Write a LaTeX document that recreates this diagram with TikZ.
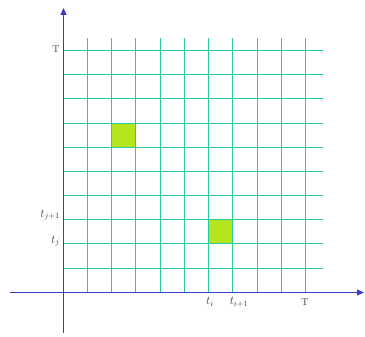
\documentclass[tikz,border=0pt]{standalone}
\usetikzlibrary{arrows.meta}
\definecolor{gridc}{HTML}{22CCA0}
\definecolor{axisc}{HTML}{3A3AC4}
\definecolor{cellc}{HTML}{B5E61D}
\definecolor{labc}{HTML}{404040}
\begin{document}
\begin{tikzpicture}[x=1pt,y=-1pt,
  gridline/.style={draw=gridc,line width=1.2pt},
  axisline/.style={draw=axisc,line width=0.9pt,-{Triangle[length=7pt,width=6pt]}},
  cell/.style={fill=cellc},
  lab/.style={text=labc,font=\large,inner sep=1pt}]
\useasboundingbox (0,0) rectangle (365,337);
% cells
\fill[cell] (111.5,123.5) rectangle (135.5,147.5);
\fill[cell] (208.5,219.5) rectangle (232.5,243.5);
% grid
\foreach \v in {50.5,74.5,98.5,123.5,147.5,171.5,195.5,219.5,243.5,268.5}{
  \draw[gridline] (63,\v) -- (323,\v);
}
\foreach \u in {87.5,111.5,135.5,160.5,184.5,208.5,232.5,257.5,281.5,305.5}{
  \draw[gridline] (\u,292) -- (\u,38);
}
% axes
\coordinate (xs) at (10,292.5);
\coordinate (xe) at (364,292.5);
\coordinate (ys) at (63.5,333);
\coordinate (ye) at (63.5,8);
\draw[axisline] (xs) -- (xe);
\draw[axisline] (ys) -- (ye);
% labels
\node[lab,font=\normalsize] (lT) at (56,49) {T};
\node[lab,anchor=east] (ljp) at (61,215) {$t_{j+1}$};
\node[lab,anchor=east] (lj) at (61,241) {$t_j$};
\node[lab] (li) at (210,302) {$t_i$};
\node[lab] (lip) at (239,302) {$t_{i+1}$};
\node[lab,font=\normalsize] (lT2) at (305,302) {T};
\end{tikzpicture}
\end{document}
